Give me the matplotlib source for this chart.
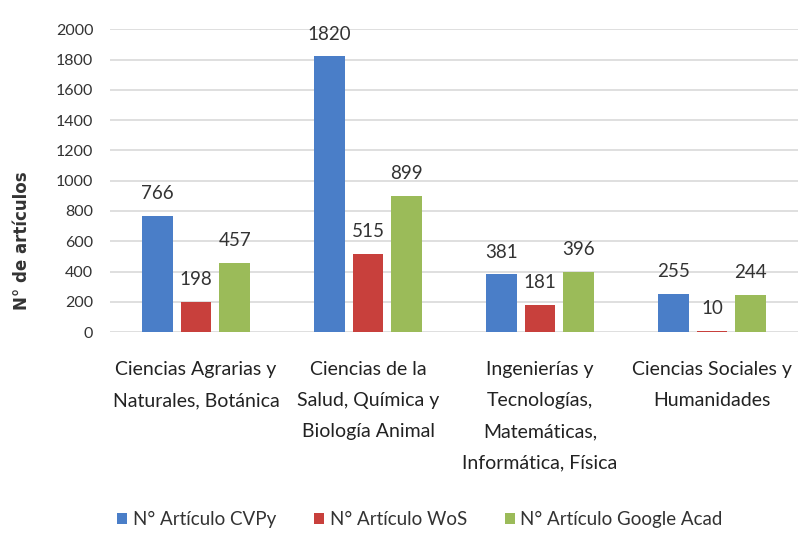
import numpy as np
import matplotlib.pyplot as plt

plt.rcParams['font.family'] = ['Lato', 'DejaVu Sans']

categories = ["Ciencias Agrarias y\nNaturales, Botánica",
              "Ciencias de la\nSalud, Química y\nBiología Animal",
              "Ingenierías y\nTecnologías,\nMatemáticas,\nInformática, Física",
              "Ciencias Sociales y\nHumanidades"]
series_names = ["N° Artículo CVPy", "N° Artículo WoS", "N° Artículo Google Acad"]
cvpy = [766, 1820, 381, 255]
wos = [198, 515, 181, 10]
google = [457, 899, 396, 244]
colors = ["#4a7ec8", "#c8403c", "#9bbb59"]

fig = plt.figure(figsize=(8, 5.41), dpi=100)
ax = fig.add_axes([0.1375, 0.386, 0.86, 0.56])

x = np.arange(len(categories))
width = 0.18
step = 0.225
for i, (vals, name) in enumerate(zip([cvpy, wos, google], series_names)):
    pos = x + (i - 1) * step
    ax.bar(pos, vals, width, color=colors[i], label=name, zorder=3)
    for p, v in zip(pos, vals):
        ax.annotate(str(v), (p, v), xytext=(0, 10), textcoords='offset points',
                    ha='center', va='bottom', fontsize=13.5, color='#333333')

ax.set_ylim(0, 2000)
ax.set_xlim(-0.5, 3.5)
ax.set_yticks(range(0, 2001, 200))
ax.tick_params(axis='y', length=0, labelsize=11.5, labelcolor='#333333', pad=12)
ax.tick_params(axis='x', length=0)
ax.set_xticks([])
for i, c in enumerate(categories):
    ax.text(i, -190, c, ha='center', va='top',
            fontsize=14, color='#222222', linespacing=2.0)
ax.grid(axis='y', color='#d9d9d9', linewidth=1.2, zorder=0)
for s in ax.spines.values():
    s.set_visible(False)

fig.text(0.027, 0.556, "N° de artículos", rotation=90, ha='center', va='center',
         fontsize=12, fontweight='bold', color='#333333', family='DejaVu Sans')

fig.legend(loc='center', bbox_to_anchor=(0.525, 0.04), ncol=3, frameon=False,
           fontsize=13.5, handlelength=0.55, handleheight=0.55, handletextpad=0.3,
           columnspacing=2.0, labelcolor='#333333')

fig.savefig("out.png", dpi=100)
